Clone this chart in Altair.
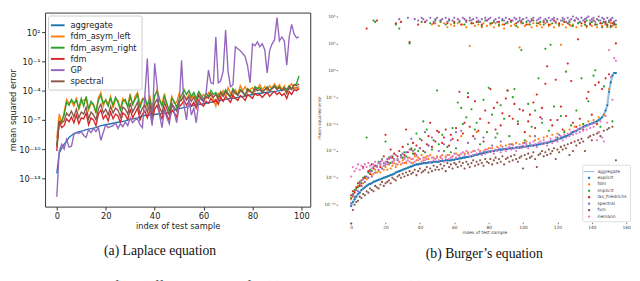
import altair as alt
import pandas as pd

# ---------------- (a) Laplace equation : log10(mean squared error) ----------------
lap_methods = ["aggregate", "fdm_asym_left", "fdm_asym_right", "fdm", "GP", "spectral"]
lap_colors = ["#1f77b4", "#ff7f0e", "#2ca02c", "#d62728", "#9467bd", "#8c564b"]

lap_aggregate = [
    -12.5, -10.4, -9.9, -9.5, -9.2, -8.8, -8.6, -8.4, -8.3, -8.2,
    -8.15, -8.1, -8.0, -7.95, -7.9, -7.85, -7.8, -7.7, -7.6, -7.55,
    -7.5, -7.45, -7.4, -7.35, -7.3, -7.25, -7.2, -7.15, -7.1, -7.0,
    -6.95, -6.9, -6.85, -6.8, -6.7, -6.6, -6.55, -6.5, -6.5, -6.45,
    -6.45, -6.4, -6.4, -6.35, -6.35, -6.3, -6.2, -6.1, -6.0, -5.9,
    -5.85, -5.8, -5.75, -5.7, -5.6, -5.55, -5.5, -5.45, -5.4, -5.4,
    -5.35, -5.3, -5.25, -5.2, -5.15, -5.1, -5.05, -5.0, -4.95, -4.9,
    -4.85, -4.8, -4.8, -4.75, -4.7, -4.65, -4.6, -4.55, -4.5, -4.45,
    -4.4, -4.35, -4.3, -4.3, -4.25, -4.2, -4.2, -4.15, -4.1, -4.1,
    -4.05, -4.0, -3.95, -3.9, -3.9, -3.85, -3.8, -3.75, -3.7, -3.65]
lap_fdm_asym_left = [
    -8.9, -6.4, -7.4, -6.2, -4.9, -5.3, -5.1, -5.6, -4.7, -5.9,
    -5.2, -5.0, -4.8, -6.0, -5.3, -5.5, -6.3, -4.7, -4.2, -5.6,
    -4.9, -5.4, -4.6, -5.8, -4.9, -5.0, -5.9, -4.8, -5.2, -5.5,
    -4.3, -5.6, -4.6, -4.2, -5.5, -4.8, -5.0, -5.7, -4.5, -5.9,
    -4.6, -3.9, -4.8, -5.4, -4.3, -5.6, -5.9, -4.6, -5.3, -5.2,
    -4.3, -5.0, -4.5, -4.9, -4.4, -4.8, -4.5, -5.0, -4.3, -4.7,
    -4.4, -4.8, -4.2, -4.5, -4.9, -5.6, -4.3, -4.7, -4.0, -4.6,
    -3.7, -4.3, -4.5, -3.9, -4.4, -3.5, -4.0, -3.6, -4.2, -3.9,
    -3.7, -4.1, -3.8, -3.4, -3.9, -3.6, -4.0, -3.5, -3.8, -3.3,
    -3.7, -3.4, -3.9, -3.5, -4.2, -3.6, -3.3, -3.7, -3.8, -3.6]
lap_fdm_asym_right = [
    -9.6, -7.2, -7.1, -6.5, -5.2, -5.5, -4.9, -5.3, -5.0, -5.8,
    -4.8, -5.6, -4.6, -5.9, -5.1, -5.4, -6.2, -5.0, -4.5, -5.3,
    -5.0, -5.6, -4.8, -5.5, -4.7, -5.2, -6.0, -5.1, -4.9, -5.7,
    -4.6, -5.4, -4.9, -4.4, -5.8, -5.0, -4.7, -5.5, -4.9, -6.1,
    -4.5, -4.1, -5.0, -5.6, -4.6, -5.3, -6.2, -4.8, -5.1, -5.7,
    -4.9, -4.5, -3.9, -4.4, -4.0, -4.6, -4.2, -4.8, -4.1, -4.5,
    -4.9, -4.3, -4.6, -4.0, -4.4, -4.2, -4.7, -4.1, -4.5, -3.9,
    -4.3, -4.6, -3.8, -4.2, -4.4, -3.9, -4.1, -4.5, -3.8, -4.0,
    -4.3, -3.6, -3.8, -3.7, -4.1, -3.9, -3.6, -4.0, -3.7, -3.5,
    -3.8, -3.6, -4.0, -3.7, -3.9, -3.5, -3.8, -3.4, -3.3, -2.5]
lap_fdm = [
    -10.2, -7.1, -7.8, -7.6, -6.9, -7.2, -6.7, -7.3, -6.5, -7.4,
    -6.8, -6.9, -6.3, -7.5, -6.8, -7.0, -7.6, -6.4, -6.0, -6.9,
    -6.5, -7.1, -6.2, -6.9, -6.4, -6.6, -7.3, -6.3, -6.5, -7.0,
    -5.9, -6.8, -6.3, -5.8, -7.0, -6.4, -6.1, -6.8, -6.0, -7.2,
    -5.9, -5.5, -6.3, -6.9, -5.8, -6.5, -7.1, -6.0, -6.3, -6.7,
    -5.7, -5.4, -5.0, -5.5, -5.1, -5.6, -5.2, -5.8, -5.0, -5.4,
    -5.6, -5.1, -5.3, -4.8, -5.2, -4.9, -5.4, -4.7, -5.1, -4.6,
    -4.9, -5.2, -4.5, -4.8, -5.0, -4.5, -4.7, -5.0, -4.4, -4.6,
    -4.8, -4.3, -4.5, -4.4, -4.7, -4.4, -4.2, -4.6, -4.3, -4.1,
    -4.4, -4.2, -4.5, -4.3, -4.8, -4.1, -4.4, -3.9, -4.0, -3.8]
lap_GP = [
    -14.9, -10.2, -9.5, -10.0, -9.0, -9.8, -9.7, -8.5, -8.3, -8.4,
    -8.2, -8.6, -8.8, -8.0, -8.3, -7.9, -8.2, -7.8, -9.1, -8.3,
    -7.5, -7.8, -7.7, -7.6, -7.3, -7.9, -7.4, -7.7, -7.2, -7.6,
    -6.8, -7.3, -7.0, -6.9, -7.5, -7.8, -4.5, -0.7, -6.0, -7.6,
    -1.2, -3.5, -6.5, -7.8, -6.0, -6.8, -7.4, -5.2, -6.2, -7.3,
    -5.5, -0.9, -5.5, -7.0, -4.8, -6.5, -5.8, -7.3, -5.2, -4.6,
    -5.2, -4.3, -1.9, -3.2, -3.3, 1.5, -3.2, -3.0, -2.0, 2.2,
    -2.0, -3.6, -3.4, 0.5, 0.3, 0.1, -0.2, -0.5, -1.5, -3.2,
    0.8, 0.6, 1.0, 0.5, 0.8, 0.2, -2.2, 0.1, 0.8, 1.2,
    3.5, 1.1, 1.5, 1.1, -1.4, 1.5, 2.8, 1.8, 1.4, 1.5]
lap_spectral = [
    -9.8, -7.3, -7.3, -7.1, -6.3, -6.6, -6.1, -6.7, -5.9, -6.8,
    -6.2, -6.4, -5.7, -6.9, -6.2, -6.5, -7.0, -5.9, -5.4, -6.3,
    -5.9, -6.5, -5.6, -6.3, -5.8, -6.0, -6.7, -5.7, -5.9, -6.4,
    -5.3, -6.2, -5.7, -5.2, -6.4, -5.8, -5.5, -6.2, -5.4, -6.6,
    -5.3, -4.9, -5.7, -6.3, -5.2, -5.9, -6.5, -5.4, -5.7, -6.1,
    -5.2, -4.9, -4.5, -5.0, -4.6, -5.1, -4.7, -5.3, -4.5, -4.9,
    -5.1, -4.6, -4.8, -4.3, -4.7, -4.4, -4.9, -4.2, -4.6, -4.1,
    -4.4, -4.7, -4.0, -4.3, -4.5, -4.0, -4.2, -4.5, -3.9, -4.1,
    -4.3, -3.8, -4.0, -3.9, -4.2, -3.9, -3.7, -4.1, -3.8, -3.6,
    -3.9, -3.7, -4.0, -3.8, -4.3, -3.6, -3.9, -3.4, -3.5, -3.3]

lap_x_ticks = [0, 20, 40, 60, 80, 100]
lap_y_exps = [2, -1, -4, -7, -10, -13]
lap_y_labels = ["10²", "10⁻¹", "10⁻⁴", "10⁻⁷", "10⁻¹⁰", "10⁻¹³"]

# ---------------- (b) Burger's equation : log10(mean squared error) ----------------
bur_methods = ["aggregate", "explicit", "fdm", "implicit", "lax_friedrichs", "spectral", "fvm", "riemann"]
bur_colors = ["#93c0e2", "#1f77b4", "#ff7f0e", "#2ca02c", "#d62728", "#9467bd", "#8c564b", "#e377c2"]

bur_aggregate = [
    -10.1, -9.8, -9.6, -9.4, -9.2, -9.1, -8.9, -8.8, -8.7, -8.6,
    -8.5, -8.45, -8.4, -8.3, -8.25, -8.2, -8.15, -8.1, -8.05, -8.0,
    -7.95, -7.9, -7.85, -7.8, -7.75, -7.7, -7.6, -7.55, -7.5, -7.45,
    -7.4, -7.35, -7.3, -7.25, -7.2, -7.15, -7.1, -7.05, -7.0, -7.0,
    -6.95, -6.95, -6.9, -6.9, -6.9, -6.85, -6.85, -6.85, -6.8, -6.8,
    -6.8, -6.8, -6.75, -6.75, -6.75, -6.7, -6.7, -6.7, -6.7, -6.65,
    -6.65, -6.6, -6.6, -6.55, -6.55, -6.5, -6.5, -6.45, -6.45, -6.4,
    -6.4, -6.35, -6.3, -6.3, -6.25, -6.2, -6.2, -6.15, -6.1, -6.1,
    -6.05, -6.05, -6.0, -6.0, -5.95, -5.95, -5.9, -5.9, -5.9, -5.85,
    -5.85, -5.85, -5.8, -5.8, -5.8, -5.8, -5.75, -5.75, -5.75, -5.7,
    -5.7, -5.7, -5.65, -5.65, -5.6, -5.6, -5.6, -5.55, -5.55, -5.5,
    -5.5, -5.45, -5.45, -5.4, -5.4, -5.35, -5.3, -5.3, -5.25, -5.2,
    -5.15, -5.1, -5.05, -5.0, -4.95, -4.9, -4.85, -4.8, -4.7, -4.6,
    -4.55, -4.5, -4.4, -4.35, -4.3, -4.2, -4.15, -4.1, -4.05, -4.0,
    -3.95, -3.9, -3.85, -3.8, -3.7, -3.6, -3.5, -3.3, -3.0, -2.6,
    -1.6, -0.9, -0.4, -0.2, -0.2]
bur_explicit = bur_aggregate
bur_fdm = [
    -9.6, -9.4, -9.0, -8.9, -8.6, -8.5, -8.6, -8.4, -8.0, -8.1,
    -8.0, -7.7, -7.8, -7.7, -7.4, -7.6, -7.5, -7.6, -7.3, -7.4,
    -7.2, -7.4, -7.0, -7.3, -7.1, -6.9, -7.2, -7.0, -6.8, -7.0,
    -6.7, -6.9, -6.9, -6.5, -6.8, -6.6, -6.9, -6.4, -6.7, -6.5,
    -6.6, -6.3, -6.7, -6.5, -6.4, -6.6, -6.3, 3.4, -6.5, 3.5,
    -6.4, 3.3, -6.5, -6.3, 3.5, -6.4, 3.2, -6.3, 3.4, -6.4,
    3.3, -6.2, 3.5, -6.3, -4.9, 3.4, -6.2, 3.2, -6.1, 1.8,
    3.5, -6.0, 3.3, -4.6, 3.4, -6.0, 3.2, 3.5, -5.9, 3.3,
    -5.8, 3.4, -5.8, 3.2, 3.5, -5.7, 3.3, -5.6, 3.4, 3.1,
    -5.6, 3.5, -5.5, 3.3, -5.5, 3.4, -5.4, 3.2, 1.7, 3.5,
    -5.4, 3.3, -5.3, 3.4, -4.9, 3.2, 3.5, -5.2, 3.3, -5.1,
    3.4, 3.2, -5.0, 3.5, -4.9, 3.3, 3.4, -4.8, 3.2, 3.5,
    -4.7, 3.3, 1.9, 3.4, -4.5, 3.2, 3.5, -4.4, 3.3, 3.4,
    -4.2, 3.2, 3.5, -4.1, 3.3, -4.0, 3.4, 3.2, -3.8, 3.5,
    3.3, -3.7, 3.4, 3.2, -3.5, 3.5, 3.3, -3.3, 3.4, 3.2,
    -1.4, 3.5, 3.3, 3.4, 3.2]
bur_implicit = [
    -9.5, -9.2, -8.9, -8.8, -8.7, -8.3, -8.4, -8.0, -7.9, -5.0,
    -7.6, -7.4, -7.5, 3.7, 3.6, -7.2, -6.8, -7.0, -6.6, -7.1,
    -5.3, -6.8, -6.5, -6.9, -6.4, -6.7, 3.4, -6.6, 3.1, -6.3,
    -6.5, -6.1, -6.4, -5.5, 2.0, -5.8, -6.2, -5.9, -4.7, -6.0,
    -5.1, 3.6, -3.8, -6.1, -4.4, -5.6, 3.5, -5.9, -5.2, 3.7,
    -1.5, -5.5, 3.6, -4.8, -6.0, 3.4, -5.7, 3.7, -6.1, -4.3,
    3.5, -5.8, -2.4, 3.6, -2.8, -4.0, 3.4, -3.5, -1.7, 3.7,
    -2.9, 3.5, -4.4, -3.9, 3.6, -5.5, 3.3, -2.2, 3.7, -4.6,
    -1.3, 3.5, -3.3, 3.6, -5.0, -4.7, 3.4, -2.6, 3.7, -3.6,
    3.5, -1.5, -4.9, 3.6, -2.0, -1.4, 3.3, -3.8, 3.7, 1.5,
    3.5, -5.2, 3.6, -2.5, 3.4, -4.2, 3.7, -3.0, 3.5, -0.6,
    3.6, -3.9, 3.4, 1.6, 3.7, -4.5, 1.9, 3.5, -2.7, 3.6,
    -5.0, 3.4, -3.4, 3.7, -4.6, -0.1, 3.5, 3.6, -4.1, 3.3,
    3.7, -3.0, 3.5, 3.6, -0.6, -4.0, 3.4, 3.7, -2.3, 3.5,
    3.6, -0.4, 0.0, 3.4, 3.7, -4.2, 3.5, -1.2, 3.6, 3.3,
    3.6, 3.2, -3.8, 3.5, 3.4]
bur_lax_friedrichs = [
    -9.3, -9.0, -9.1, -8.7, -8.4, -8.6, -8.2, -7.2, -8.0, 3.1,
    -7.5, -7.7, -7.0, -7.3, -7.1, 3.7, -6.9, -7.2, -6.7, -6.4,
    -4.8, -6.8, -6.6, -5.9, -6.5, -6.2, 3.5, -6.4, -6.0, 3.6,
    -5.7, -6.3, -4.4, -6.1, 2.1, -5.9, -5.4, -6.2, -5.6, 3.4,
    -5.8, -5.2, -6.0, 3.6, -5.5, -4.9, -3.9, -5.7, 3.5, -5.3,
    -4.5, -4.6, 3.7, -5.4, -5.0, -4.4, 3.5, -5.6, -4.8, -5.1,
    3.6, -4.3, -5.2, -1.6, 3.4, -4.7, -3.9, 3.7, -2.0, -4.2,
    3.5, -4.9, -2.3, 3.6, -4.5, -3.6, 3.4, -5.3, -3.0, 3.7,
    -3.9, -1.4, 3.5, -2.8, -4.4, -2.4, 3.6, -4.1, -3.2, 3.4,
    -2.1, -1.5, -3.4, 3.7, -3.6, -2.5, 3.5, -4.0, -2.9, 3.6,
    -3.0, -4.6, 3.4, -3.8, -3.3, 3.7, -2.4, -4.3, -1.8, 3.5,
    -3.5, -2.8, 3.6, -1.0, 0.3, 3.4, -3.7, -4.1, 3.7, -0.7,
    -3.7, 3.5, -2.7, -4.4, 3.6, -3.4, 0.5, 3.4, -0.8, -3.9,
    3.7, -4.2, 2.3, -3.6, 3.5, -4.4, 3.6, -2.1, -1.6, 3.4,
    -3.3, 3.7, -1.1, -4.0, -0.9, 3.5, -1.4, 3.6, -0.6, 3.4,
    -0.3, 3.7, 3.5, 3.6, 2.0]
bur_spectral = [
    -9.9, -9.3, -9.4, -8.9, -9.0, -8.4, -8.6, -8.1, -8.3, -7.9,
    -8.0, -7.5, -7.9, -7.2, -7.6, -7.1, -7.4, -6.8, -7.3, -6.9,
    -7.0, -6.6, -6.9, -6.5, -6.8, -6.6, -6.3, -6.7, 3.8, -6.4,
    -6.2, -6.5, -6.1, 3.9, -5.9, -5.1, -6.0, 3.8, -6.3, 3.7,
    -5.8, 3.9, 3.8, -4.6, 3.7, -5.6, 3.9, -5.0, 3.6, 3.8,
    3.9, -6.0, 3.7, 3.8, -5.5, 3.9, 3.6, 3.8, -5.2, 3.7,
    3.9, -4.6, 3.8, 3.7, -4.5, 3.9, 3.8, 3.6, -5.4, 3.9,
    3.7, 3.8, -5.1, 3.9, 3.7, 3.6, 3.8, -5.0, 3.9, 3.7,
    3.8, 3.9, -5.6, 3.7, 3.8, 3.6, 3.9, -5.3, 3.8, 3.7,
    3.9, 3.6, 3.8, -5.5, 3.7, 3.9, 3.8, 3.6, 3.9, 3.7,
    3.8, -5.4, 3.9, 3.7, 3.6, 3.8, 3.9, -4.9, 3.7, 3.8,
    3.9, -3.6, 3.7, 3.8, 3.6, 3.9, 3.7, 3.8, 3.9, 3.6,
    3.8, -4.8, 3.7, 3.9, 3.8, 3.6, 3.9, 3.7, 3.8, 4.0,
    3.7, 3.9, 3.8, 3.6, 3.9, 3.7, 3.8, 3.9, 4.0, 3.7,
    3.8, 3.9, 3.6, 3.8, 4.0, 3.7, 3.9, 3.8, 3.6, 3.9,
    3.7, 3.8, 3.9, 3.6, 3.7]
bur_fvm = [
    -11.4, -10.4, -10.0, -9.8, -9.7, -9.4, -9.5, -9.2, -9.3, -9.0,
    -9.1, -8.8, -8.9, -9.0, -8.6, -8.7, -8.8, -8.5, -8.3, -8.6,
    -8.4, -8.3, -8.2, -8.4, -8.0, -8.1, -8.2, -7.9, -7.8, -8.0,
    -7.7, -7.9, -7.6, -7.8, -7.5, -7.7, -7.6, -7.4, -7.8, -7.5,
    -7.3, -7.6, -7.5, -7.4, -7.2, -7.6, -7.3, -7.5, -7.1, -7.4,
    -7.2, -7.4, -7.0, -7.3, -7.1, -7.5, -6.9, -7.2, -7.0, -7.3,
    -6.9, -7.0, -7.2, -6.8, -7.1, -6.9, -7.3, -6.8, -7.0, -7.2,
    -6.9, -6.7, -7.1, -6.8, -7.0, -6.7, -6.9, -7.1, -6.6, -6.8,
    -6.9, -6.6, -7.0, -6.7, -6.5, -6.9, -6.6, -6.8, -6.4, -7.0,
    -6.6, -6.5, -6.8, -6.4, -6.7, -6.3, -6.6, -6.8, -6.5, -6.4,
    -7.3, -6.3, -6.6, -6.2, -6.5, -6.4, -6.1, -6.6, -7.2, -6.3,
    -6.2, -6.0, -6.4, -6.1, -6.3, -5.9, -6.2, -6.0, -5.8, -6.6,
    -5.9, -6.1, -5.7, -5.9, -5.6, -5.8, -5.5, -6.3, -5.4, -6.0,
    -5.3, -5.6, -5.2, -5.4, -5.1, -5.3, -6.0, 3.3, -5.0, -4.9,
    -5.2, -4.8, 3.4, -4.7, -4.6, -4.9, 3.2, -4.5, 3.5, -4.4,
    -4.3, 3.3, -4.2, 3.4, -6.7]
bur_riemann = [
    -7.9, -7.2, -7.5, -7.3, -7.0, -7.4, -7.1, -7.3, -7.0, -7.2,
    -6.9, -7.1, -7.3, -7.0, -6.8, -7.2, -6.9, -7.0, -6.7, -7.1,
    -6.8, -7.0, -6.6, -6.4, -6.9, -6.7, -7.0, -6.6, -6.8, -6.5,
    -6.9, -6.6, -6.8, -6.7, -6.5, -6.9, -6.6, -6.8, -6.4, -6.7,
    -6.6, -6.8, -6.5, -6.7, -6.6, -6.4, -6.8, -6.5, -6.7, -6.6,
    -6.5, -6.7, -6.4, -6.6, -6.8, -6.5, -6.3, -6.6, -6.5, -6.4,
    -6.2, -6.5, -6.3, -6.4, -6.2, -6.1, -6.3, -6.0, -6.2, -6.4,
    -6.1, -6.3, -6.0, -6.2, -5.9, -6.1, -6.3, -6.0, -6.2, -5.9,
    -6.1, -5.8, -6.0, -6.2, -5.9, -6.0, -5.8, -6.1, -5.7, -5.9,
    -6.0, -5.8, -5.7, -5.9, -5.6, -5.8, -6.0, -5.7, -5.5, -5.8,
    -5.6, -5.7, -5.5, -5.8, -5.4, -5.6, -5.3, -5.5, -5.7, -5.4,
    -5.3, -5.5, -5.2, -5.4, -5.6, -5.3, -5.1, -5.4, -5.2, -5.0,
    -5.3, -5.1, -4.9, -5.2, -4.8, -5.0, -4.7, -4.9, -4.6, -4.8,
    -4.5, -4.7, -4.4, -4.6, -4.3, -4.5, -4.2, -4.4, -4.1, -4.3,
    -4.0, -4.2, -3.9, -5.2, -4.6, -3.8, -5.0, -5.3, -3.4, -3.9,
    1.5, -0.5, -2.2, 0.9, 0.7]

bur_x_ticks = [0, 20, 40, 60, 80, 100, 120, 140, 160]
bur_y_exps = [4, 2, 0, -2, -4, -6, -8, -10]
bur_y_labels = ["10⁴", "10²", "10⁰", "10⁻²", "10⁻⁴", "10⁻⁶", "10⁻⁸", "10⁻¹⁰"]

caption_a = "(a) Laplace equation"
caption_b = "(b) Burger\u2019s equation"
figure_caption = ("Figure 2.4:  MSE of the different methods for  (a) the Laplace equation  "
                  "(b) Burgers\u2019 equation.")

# ---------------- tables ----------------
def long_table(names, series):
    rows = []
    for name, vals in zip(names, series):
        for i, e in enumerate(vals):
            rows.append({"idx": i, "method": name, "mse": 10.0 ** e})
    return pd.DataFrame(rows)

lap_df = long_table(lap_methods, [lap_aggregate, lap_fdm_asym_left, lap_fdm_asym_right,
                                  lap_fdm, lap_GP, lap_spectral])
bur_line_df = long_table(["aggregate"], [bur_aggregate])
bur_pts_df = long_table(bur_methods[1:], [bur_explicit, bur_fdm, bur_implicit,
                                          bur_lax_friedrichs, bur_spectral, bur_fvm, bur_riemann])
bur_pts_df = bur_pts_df.rename(columns={"method": "bmethod"})


def label_expr(exps, labels):
    labs = ",".join("'%s'" % s for s in labels)
    ex = ",".join(str(e) for e in exps)
    return "[%s][indexof([%s], round(log(datum.value)/LN10))]" % (labs, ex)


FONT = "DejaVu Sans"
SERIF = "Liberation Serif"

# ---------------- left panel ----------------
lap_chart = alt.Chart(lap_df).mark_line(strokeWidth=1.4, clip=True).encode(
    x=alt.X("idx:Q",
            scale=alt.Scale(domain=[-4.8, 103.6], nice=False, zero=False),
            axis=alt.Axis(values=lap_x_ticks, title="index of test sample", grid=False,
                          domain=False, tickSize=3.5, tickColor="#333", labelFont=FONT,
                          labelFontSize=8.5, labelColor="#222", labelPadding=1.5,
                          titleFont=FONT, titleFontSize=8.5, titleFontWeight="normal",
                          titleColor="#222", titlePadding=2, labelFlush=False)),
    y=alt.Y("mse:Q",
            scale=alt.Scale(type="log", domain=[10 ** -15.9, 10 ** 4.0], nice=False),
            axis=alt.Axis(values=[10.0 ** e for e in lap_y_exps],
                          labelExpr=label_expr(lap_y_exps, lap_y_labels),
                          title="mean squared error", grid=False, domain=False,
                          tickSize=3.5, tickColor="#333", labelFont=FONT, labelFontSize=8.5,
                          labelColor="#222", labelPadding=1.5, titleFont=FONT,
                          titleFontSize=8.5, titleFontWeight="normal", titleColor="#222",
                          titlePadding=1, labelFlush=False)),
    color=alt.Color("method:N",
                    scale=alt.Scale(domain=lap_methods, range=lap_colors),
                    legend=alt.Legend(title=None, orient="top-left", offset=3,
                                      symbolType="M-1.4,0H1.4", symbolStrokeWidth=2,
                                      symbolSize=100, labelFont=FONT, labelFontSize=8.5,
                                      labelColor="#222", rowPadding=0.5, padding=4,
                                      labelOffset=7, fillColor="white",
                                      strokeColor="#cccccc", cornerRadius=2)),
).properties(
    width=272, height=199,
    view=alt.ViewBackground(stroke="#333333", strokeWidth=1),
    title=alt.TitleParams(caption_a, orient="bottom", font=SERIF, fontSize=14,
                          fontWeight="normal", color="#111", offset=15, dx=-18),
)

# ---------------- right panel ----------------
dot_path = "M0,-0.42A0.42,0.42,0,1,1,0,0.42A0.42,0.42,0,1,1,0,-0.42Z"
bar_path = "M-2,-0.2H2V0.2H-2Z"
bur_shapes = [bar_path] + [dot_path] * (len(bur_methods) - 1)

bx = alt.X("idx:Q", scale=alt.Scale(domain=[-7.9, 162.8], nice=False, zero=False),
           axis=alt.Axis(values=bur_x_ticks, title="index of test sample", grid=False,
                         domain=False, tickSize=1.5, tickColor="#777", labelFont=FONT,
                         labelFontSize=4.5, labelColor="#444", labelPadding=1,
                         titleFont=FONT, titleFontSize=4.5, titleFontWeight="normal",
                         titleColor="#444", titlePadding=1, labelFlush=False))
by = alt.Y("mse:Q", scale=alt.Scale(type="log", domain=[10 ** -11.3, 10 ** 4.29], nice=False),
           axis=alt.Axis(values=[10.0 ** e for e in bur_y_exps],
                         labelExpr=label_expr(bur_y_exps, bur_y_labels),
                         title="mean squared error", grid=False, domain=False,
                         tickSize=1.5, tickColor="#777", labelFont=FONT, labelFontSize=4.5,
                         labelColor="#444", labelPadding=1, titleFont=FONT,
                         titleFontSize=4.5, titleFontWeight="normal", titleColor="#444",
                         titlePadding=2, labelFlush=False))

bur_legend = alt.Legend(title=None, orient="bottom-right", offset=1, symbolSize=32,
                        labelFont=FONT, labelFontSize=4.5, labelColor="#444",
                        rowPadding=0.6, padding=3, fillColor="white",
                        strokeColor="#dddddd", cornerRadius=1, labelOffset=4.5)

bur_line = alt.Chart(bur_line_df).mark_line(color="#93c0e2", strokeWidth=2.2).encode(
    x=bx, y=by)
bur_pts = alt.Chart(bur_pts_df).mark_point(filled=True, size=27, opacity=1).encode(
    x=bx, y=by,
    color=alt.Color("bmethod:N", scale=alt.Scale(domain=bur_methods, range=bur_colors),
                    legend=bur_legend),
    shape=alt.Shape("bmethod:N", scale=alt.Scale(domain=bur_methods, range=bur_shapes),
                    legend=bur_legend),
)
bur_chart = alt.layer(bur_line, bur_pts).properties(
    width=301, height=215,
    view=alt.ViewBackground(stroke="transparent"),
    title=alt.TitleParams(caption_b, orient="bottom", font=SERIF, fontSize=14,
                          fontWeight="normal", color="#111", offset=13),
)

chart = alt.hconcat(lap_chart, bur_chart, spacing=5).resolve_scale(
    color="independent", shape="independent"
).resolve_legend(
    color="independent", shape="independent"
).properties(
    padding=0,
    title=alt.TitleParams(figure_caption, orient="bottom", anchor="start", font=SERIF,
                          fontSize=14.5, fontWeight="normal", color="#111", offset=20),
)

chart.save("out.html", embed_options={"renderer": "svg", "actions": False})
